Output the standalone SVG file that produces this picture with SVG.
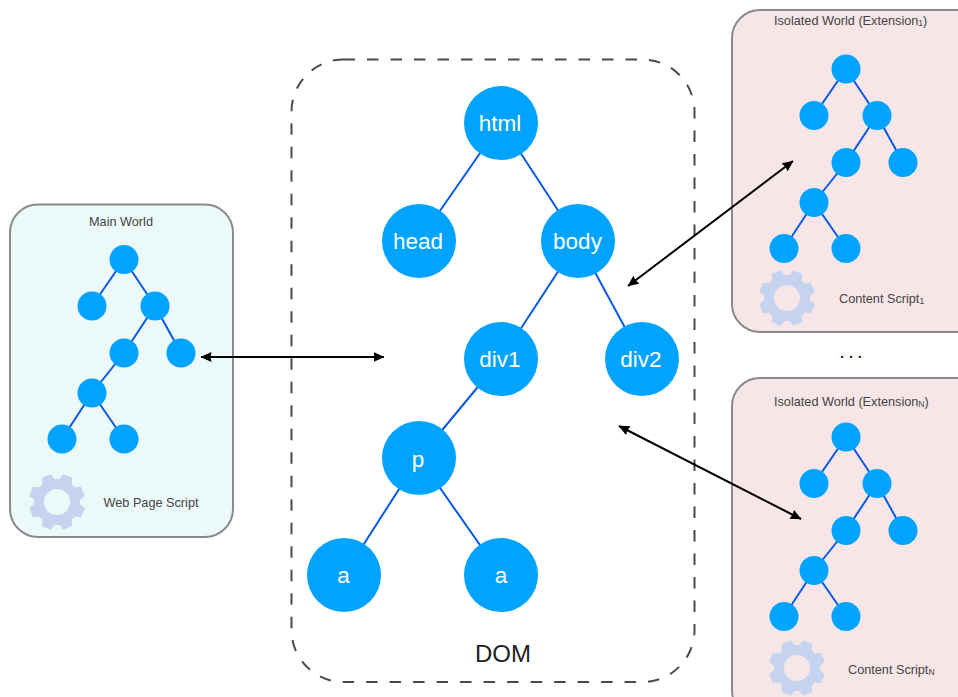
<svg xmlns="http://www.w3.org/2000/svg" width="958" height="697" viewBox="0 0 958 697">
<style>
text{font-family:"Liberation Sans",Arial,sans-serif}
.n{fill:#00a3ff}
.big{fill:#fff;font-size:22.500px;text-anchor:middle}
.lab{fill:#444;font-size:12.700px}
.sub{font-size:8.500px}
.e{stroke:#0a58e6;stroke-width:2;fill:none}
.e2{stroke:#0a58e6;stroke-width:2;fill:none}
.w{stroke:#8a8a8a;stroke-width:2}
.a{stroke:#000;stroke-width:2;fill:none;marker-start:url(#h);marker-end:url(#h)}
.g{fill:#c5d3ef}
</style>
<defs>
<marker id="h" viewBox="0 0 11 11" refX="10.500" refY="5.500" markerUnits="userSpaceOnUse" markerWidth="11" markerHeight="11" orient="auto-start-reverse"><path d="M0 0.500L11 5.500L0 10.500L1 5.500Z" fill="#000"/></marker>
<g id="tree">
<path class="e2" d="M124 259.500L92 306M124 259.500L155 306M155 306L124 353M155 306L181 353M124 353L92 393M92 393L62 439M92 393L124 439"/>
<circle class="n" cx="124" cy="259.500" r="14.500"/><circle class="n" cx="92" cy="306" r="14.500"/><circle class="n" cx="155" cy="306" r="14.500"/><circle class="n" cx="124" cy="353" r="14.500"/><circle class="n" cx="181" cy="353" r="14.500"/><circle class="n" cx="92" cy="393" r="14.500"/><circle class="n" cx="62" cy="439" r="14.500"/><circle class="n" cx="124" cy="439" r="14.500"/>
</g>
<g id="gear" class="g">
<path fill-rule="evenodd" d="M-23 0A23 23 0 1 0 23 0A23 23 0 1 0 -23 0ZM-13 0A13 13 0 1 1 13 0A13 13 0 1 1 -13 0Z"/>
<g id="t2"><path id="t" d="M-7 -21L-5 -28L5 -28L7 -21Z" transform="rotate(22.5)"/><use href="#t" transform="rotate(45)"/></g>
<use href="#t2" transform="rotate(90)"/><use href="#t2" transform="rotate(180)"/><use href="#t2" transform="rotate(270)"/>
</g>
</defs>
<g id="dom-box"><rect x="291.500" y="59.500" width="403" height="622.500" rx="52" fill="none" stroke="#4a4a4a" stroke-width="2" stroke-dasharray="11.500 12"/>
<text x="503" y="662" font-size="24" fill="#222" text-anchor="middle">DOM</text></g>
<g id="main-world"><rect class="w" x="10" y="204.500" width="223" height="332.500" rx="28" fill="#ecf9f9"/>
<text class="lab" x="121" y="226" text-anchor="middle">Main World</text>
<use href="#tree"/>
<use href="#gear" x="57" y="502"/>
<text class="lab" x="103.500" y="507">Web Page Script</text></g>
<g id="isolated-1"><rect class="w" x="732" y="10" width="260" height="322" rx="28" fill="#f6e6e7"/>
<text class="lab" x="774" y="25">Isolated World (Extension<tspan class="sub" dy="1">1</tspan><tspan dy="-1">)</tspan></text>
<use href="#tree" transform="translate(722 -190.500)"/>
<use href="#gear" x="787" y="298"/>
<text class="lab" x="839" y="303">Content Script<tspan class="sub" dy="1">1</tspan></text></g>
<g id="ellipsis"><text x="839.200" y="358" font-size="20" letter-spacing="3.400" fill="#111">...</text></g>
<g id="isolated-n"><rect class="w" x="732" y="378" width="260" height="340" rx="28" fill="#f6e6e7"/>
<text class="lab" x="774" y="406">Isolated World (Extension<tspan class="sub" dy="1">N</tspan><tspan dy="-1">)</tspan></text>
<use href="#tree" transform="translate(722 177.500)"/>
<use href="#gear" x="797" y="668"/>
<text class="lab" x="848" y="674">Content Script<tspan class="sub" dy="1">N</tspan></text></g>
<g id="connectors">
<path class="e" d="M501 123L419 241M501 123L578 241M578 241L501 359M578 241L642 359M501 359L419 458M419 458L344 575M419 458L501 575"/>
<path class="a" d="M201 357H384"/>
<path class="a" d="M793 161L628 286"/>
<path class="a" d="M619 426L801 519"/>
</g>
<g id="node-html"><circle class="n" cx="501" cy="123" r="37"/><text class="big" x="500" y="131">html</text></g>
<g id="node-head"><circle class="n" cx="419" cy="241" r="37"/><text class="big" x="418" y="249">head</text></g>
<g id="node-body"><circle class="n" cx="578" cy="241" r="37"/><text class="big" x="577.500" y="249">body</text></g>
<g id="node-div1"><circle class="n" cx="501" cy="359" r="37"/><text class="big" x="500" y="367">div1</text></g>
<g id="node-div2"><circle class="n" cx="642" cy="359" r="37"/><text class="big" x="641" y="367">div2</text></g>
<g id="node-p"><circle class="n" cx="419" cy="458" r="37"/><text class="big" x="418" y="467">p</text></g>
<g id="node-a1"><circle class="n" cx="344" cy="575" r="37"/><text class="big" x="343.500" y="583">a</text></g>
<g id="node-a2"><circle class="n" cx="501" cy="575" r="37"/><text class="big" x="501" y="583">a</text></g>
</svg>
